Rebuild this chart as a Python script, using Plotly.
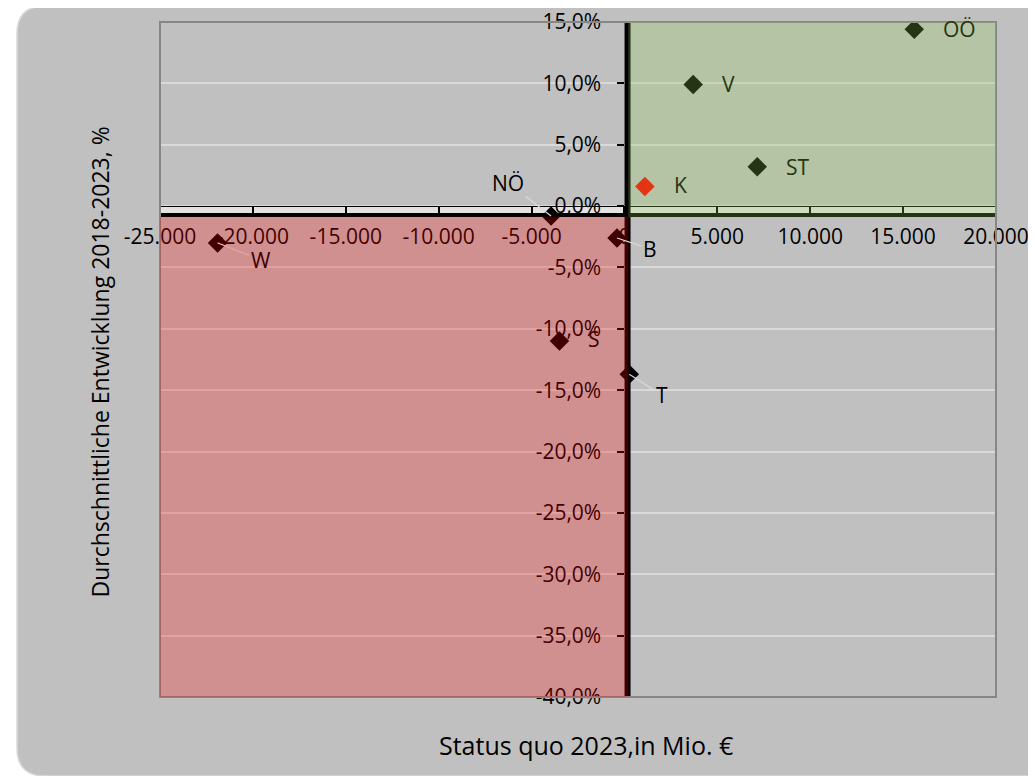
import plotly.graph_objects as go

# ---------------- data ----------------
regions = ["OÖ", "V", "ST", "K", "NÖ", "B", "W", "S", "T"]
status_quo_2023 = [15600, 3700, 7150, 1100, -3950, -400, -21900, -3500, 260]   # Mio. €
avg_growth_2018_2023 = [0.144, 0.099, 0.032, 0.016, -0.008, -0.026, -0.030, -0.110, -0.137]

x_tick_vals = [-25000, -20000, -15000, -10000, -5000, 0, 5000, 10000, 15000, 20000]
x_tick_text = ["-25.000", "-20.000", "-15.000", "-10.000", "-5.000", "0",
               "5.000", "10.000", "15.000", "20.000"]
y_tick_vals = [0.15, 0.10, 0.05, 0.0, -0.05, -0.10, -0.15, -0.20, -0.25, -0.30, -0.35, -0.40]
y_tick_text = ["15,0%", "10,0%", "5,0%", "0,0%", "-5,0%", "-10,0%", "-15,0%",
               "-20,0%", "-25,0%", "-30,0%", "-35,0%", "-40,0%"]

x_title = "Status quo 2023,in Mio. €"
y_title = "Durchschnittliche Entwicklung 2018-2023, %"

# ---------------- styles ----------------
FONT = "Open Sans"
X_RANGE = [-25000, 20000]
Y_RANGE = [-0.40, 0.15]
marker_colors = ["#000000", "#000000", "#000000", "#ff0000", "#000000",
                 "#000000", "#000000", "#000000", "#000000"]
MAROON = "#400000"
DKGREEN = "#243414"
# label placement per region: (kind, dx, dy, text colour, leader colour)
label_style = {
    "OÖ": ("right", 27, 0, DKGREEN, None),
    "V": ("right", 27, -1, DKGREEN, None),
    "ST": ("right", 27, 0, DKGREEN, None),
    "K": ("right", 27, -1, DKGREEN, None),
    "S": ("right", 27, -2, MAROON, None),
    "NÖ": ("leader", -43, -33, "#000000", "#d9d9d9"),
    "B": ("leader", 33, 11, "#000000", "#d9d9d9"),
    "W": ("leader", 43, 17, MAROON, "#e3a3a3"),
    "T": ("leader", 33, 21, "#000000", "#d9d9d9"),
}

fig = go.Figure()

fig.add_trace(go.Scatter(
    x=status_quo_2023, y=avg_growth_2018_2023, mode="markers",
    marker=dict(symbol="diamond", size=15, color=marker_colors, line=dict(width=0)),
    hoverinfo="skip", showlegend=False,
))

# data labels
annotations = []
for name, xv, yv in zip(regions, status_quo_2023, avg_growth_2018_2023):
    kind, dx, dy, col, lcol = label_style[name]
    if kind == "right":
        annotations.append(dict(x=xv, y=yv, xref="x", yref="y", text=name, showarrow=False,
                                xanchor="left", yanchor="middle", xshift=dx, yshift=-dy,
                                font=dict(family=FONT, size=21, color=col)))
    else:
        annotations.append(dict(x=xv, y=yv, xref="x", yref="y", text=name, showarrow=True,
                                ax=dx, ay=dy, arrowhead=0, arrowwidth=1.2, arrowcolor=lcol,
                                standoff=0, font=dict(family=FONT, size=21, color=col)))

# axis titles (axes cross in the middle of the plot, so titles are placed on the frame)
annotations.append(dict(x=0.5096, y=-0.071, xref="paper", yref="paper", text=x_title,
                        showarrow=False, xanchor="center", yanchor="middle",
                        font=dict(family=FONT, size=25, color="#000000")))
annotations.append(dict(x=-0.0718, y=0.497, xref="paper", yref="paper", text=y_title,
                        showarrow=False, textangle=-90, xanchor="center", yanchor="middle",
                        font=dict(family=FONT, size=23, color="#000000")))

# shapes
L, R, T, B = -0.17105, 1.0766, 1.0237, -0.11704
rx, ry = 0.0335, 0.0415
outer_path = (f"M {L+rx},{T} L {R},{T} L {R},{B} L {L+rx},{B} Q {L},{B} {L},{B+ry} "
              f"L {L},{T-ry} Q {L},{T} {L+rx},{T} Z")
shapes = [
    dict(type="path", path=outer_path, xref="paper", yref="paper", layer="below",
         fillcolor="#c0c0c0", line=dict(color="#d9d9d9", width=1.5)),
    # x-axis band (double line look)
    dict(type="rect", xref="x", yref="y", x0=X_RANGE[0], x1=X_RANGE[1], y0=-0.0056, y1=0.0,
         layer="between", fillcolor="#e2e2e2", line=dict(width=0)),
    dict(type="line", xref="x", yref="y", x0=X_RANGE[0], x1=X_RANGE[1], y0=-0.0072, y1=-0.0072,
         layer="between", line=dict(color="#000000", width=4)),
    # vertical axis line
    dict(type="line", xref="x", yref="y", x0=167, x1=167, y0=Y_RANGE[0], y1=Y_RANGE[1],
         layer="between", line=dict(color="#000000", width=6)),
    # plot area border
    dict(type="rect", xref="paper", yref="paper", x0=0, x1=1, y0=0, y1=1, layer="above",
         line=dict(color="#868686", width=2)),
    # quadrant overlays
    dict(type="rect", xref="x", yref="y", x0=X_RANGE[0], x1=210, y0=Y_RANGE[0], y1=-0.0087,
         layer="above", fillcolor="rgba(255,0,0,0.25)", line=dict(width=0)),
    dict(type="rect", xref="x", yref="y", x0=210, x1=X_RANGE[1], y0=-0.0092, y1=Y_RANGE[1],
         layer="above", fillcolor="rgba(146,208,80,0.25)", line=dict(width=0)),
]

# the page body has an 8px margin, so the figure is sized/margined to compensate
fig.update_layout(
    width=1020, height=768, autosize=False,
    margin=dict(l=152, r=32, t=14, b=79, pad=0, autoexpand=False),
    paper_bgcolor="#ffffff", plot_bgcolor="#c0c0c0",
    font=dict(family=FONT, size=21, color="#000000"),
    showlegend=False,
    shapes=shapes, annotations=annotations,
    xaxis=dict(range=X_RANGE, anchor="free", position=40 / 55, side="bottom",
               tickvals=x_tick_vals, ticktext=x_tick_text, showgrid=False, zeroline=False,
               showline=True, linecolor="#000000", linewidth=1, automargin=False,
               ticks="outside", ticklen=7, tickwidth=1.5, tickcolor="#000000",
               ticklabelstandoff=5, ticklabeloverflow="allow", layer="below traces",
               tickfont=dict(family=FONT, size=21, color="#000000")),
    yaxis=dict(range=Y_RANGE, anchor="free", position=25 / 45, side="left",
               tickvals=y_tick_vals, ticktext=y_tick_text, showgrid=True,
               gridcolor="#d9d9d9", gridwidth=1.5, zeroline=False, showline=False,
               automargin=False,
               ticks="outside", ticklen=7, tickwidth=1.5, tickcolor="#000000",
               ticklabelstandoff=12, ticklabeloverflow="allow", layer="below traces",
               tickfont=dict(family=FONT, size=21, color="#000000")),
)

fig.write_html("out.html")
